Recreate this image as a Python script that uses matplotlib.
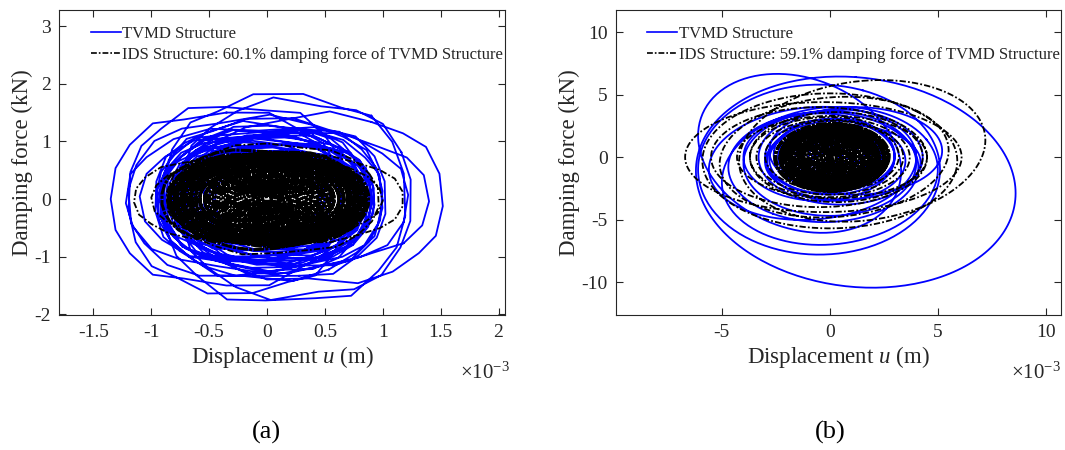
import matplotlib
matplotlib.use('Agg')
import matplotlib.pyplot as plt
import numpy as np

plt.rcParams['font.family'] = ['Liberation Serif', 'DejaVu Serif']
plt.rcParams['mathtext.fontset'] = 'custom'
plt.rcParams['mathtext.rm'] = 'Liberation Serif'
plt.rcParams['mathtext.it'] = 'Liberation Serif:italic'
plt.rcParams['axes.unicode_minus'] = False

# displacement in 1e-3 m, force in kN; loops
# panel (a): (centre x, amplitude x, amplitude y)
a_tvmd_cx = [-0.35, 0.45, 0.15, 0.25, -0.25, 0.00, 0.15, -0.10, 0.05, -0.05,
             0.10, 0.00, -0.10, 0.05, 0.00, 0.10, -0.05, 0.05, 0.00, -0.05,
             0.05, 0.00, -0.08, 0.08, 0.00, 0.05, -0.05, 0.00, 0.06, -0.06,
             0.00, 0.04, -0.04, 0.00, 0.03, -0.03, 0.00, 0.00, 0.00, 0.00]
a_tvmd_ax = [1.00, 1.07, 1.05, 1.00, 0.95, 1.22, 1.25, 1.10, 0.98, 0.92,
             0.90, 0.88, 0.86, 0.85, 0.82, 0.80, 0.78, 0.95, 0.93, 0.90,
             0.88, 0.86, 0.84, 0.83, 0.81, 0.79, 0.77, 0.75, 0.73, 0.71,
             0.70, 0.68, 0.66, 0.64, 0.62, 0.58, 0.55, 0.50, 0.47, 0.45]
a_tvmd_ay = [1.50, 1.45, 1.80, 1.70, 1.62, 1.25, 1.15, 1.40, 1.38, 1.30,
             1.28, 1.22, 1.18, 1.15, 1.10, 1.08, 1.05, 1.20, 1.12, 1.08,
             1.05, 1.02, 1.00, 0.98, 0.96, 0.94, 0.92, 0.90, 0.88, 0.86,
             0.85, 0.84, 0.82, 0.80, 0.78, 0.75, 0.72, 0.70, 0.66, 0.60]

# first 4 IDS loops are the outer ones, the rest form the dense core
a_ids_cx = [0.25, -0.30, 0.00, 0.05, -0.03, 0.02, 0.00, -0.02, 0.03, 0.00,
            -0.03, 0.02, 0.00, -0.02, 0.03, 0.00, -0.03, 0.02, 0.00, -0.02,
            0.03, 0.00, -0.03, 0.02, 0.00, -0.02, 0.03, 0.00, -0.03, 0.02,
            0.00, -0.01, 0.01, 0.00, 0.00, 0.00, 0.00, 0.00, 0.00, 0.00,
            0.00, 0.00, 0.00, 0.00, 0.00, 0.00, 0.00, 0.00, 0.00, 0.00,
            0.00, 0.00, 0.00, 0.00, 0.00, 0.00, 0.00, 0.00, 0.00]
a_ids_ax = [0.93, 0.85, 1.00, 0.92, 0.88, 0.86, 0.85, 0.84, 0.83, 0.82,
            0.81, 0.80, 0.79, 0.78, 0.77, 0.76, 0.75, 0.74, 0.73, 0.72,
            0.71, 0.70, 0.69, 0.68, 0.66, 0.65, 0.64, 0.62, 0.61, 0.60,
            0.58, 0.57, 0.55, 0.54, 0.52, 0.50, 0.48, 0.46, 0.44, 0.42,
            0.40, 0.38, 0.36, 0.34, 0.32, 0.30, 0.28, 0.26, 0.24, 0.22,
            0.20, 0.18, 0.16, 0.14, 0.12, 0.10, 0.08, 0.06, 0.04]
a_ids_ay = [0.75, 0.72, 0.70, 0.95, 0.85, 0.80, 0.79, 0.78, 0.77, 0.76,
            0.75, 0.74, 0.73, 0.72, 0.71, 0.70, 0.69, 0.68, 0.67, 0.66,
            0.65, 0.64, 0.63, 0.62, 0.60, 0.59, 0.58, 0.56, 0.55, 0.54,
            0.52, 0.51, 0.50, 0.49, 0.47, 0.45, 0.43, 0.42, 0.40, 0.38,
            0.36, 0.34, 0.33, 0.31, 0.29, 0.27, 0.25, 0.24, 0.22, 0.20,
            0.18, 0.16, 0.15, 0.13, 0.11, 0.09, 0.07, 0.06, 0.04]

# panel (b): (centre x, centre y, amplitude x, amplitude y, tilt)
b_tvmd_cx = [1.2, -0.5, -1.4, 0.0, -0.8, 1.2, 0.5, 0.0, -0.5, 0.3,
             -0.3, 0.6, 0.0, 0.2, -0.2, 0.0, 0.1, -0.1, 0.0, 0.0,
             0.0, 0.0, 0.0, 0.0, 0.0, 0.0]
b_tvmd_cy = [-2.0, -1.0, 0.3, -1.5, -0.5, 0.5, 0.0, -0.5, 0.0, -0.3,
             -0.8, -0.4, 0.0, 0.2, -0.2, 0.0, 0.1, -0.1, 0.0, 0.0,
             0.0, 0.0, 0.0, 0.0, 0.0, 0.0]
b_tvmd_ax = [7.4, 5.6, 4.7, 5.0, 4.8, 4.0, 3.8, 4.0, 3.5, 3.2,
             4.4, 3.6, 3.0, 2.8, 2.6, 2.4, 2.2, 2.0, 1.8, 1.6,
             1.4, 1.2, 1.0, 0.8, 0.6, 0.4]
b_tvmd_ay = [8.4, 6.8, 6.2, 5.5, 4.5, 3.5, 3.8, 4.2, 3.5, 3.2,
             4.4, 3.0, 3.0, 2.9, 2.7, 2.5, 2.3, 2.1, 1.9, 1.7,
             1.5, 1.3, 1.1, 0.9, 0.7, 0.5]
b_tvmd_tilt = [-0.12, 0.0, -0.3, 0.1, 0.1, 0.0, 0.0, 0.0, 0.0, 0.0,
               0.0, 0.0, 0.0, 0.0, 0.0, 0.0, 0.0, 0.0, 0.0, 0.0,
               0.0, 0.0, 0.0, 0.0, 0.0, 0.0]

# first 10 IDS loops are the outer ones, the rest form the dense core
b_ids_cx = [1.5, -0.3, 0.0, 0.2, -0.5, 0.3, 0.0, 0.0, 0.1, 0.1,
            0.1, 0.0, 0.2, 0.3, 0.1, 0.2, 0.0, 0.2, 0.3, 0.1,
            0.15, 0.25, 0.2, 0.15, 0.25, 0.2, 0.15, 0.25, 0.2, 0.2,
            0.2, 0.2, 0.2, 0.2, 0.2, 0.2, 0.2, 0.2, 0.2, 0.2,
            0.2, 0.2, 0.2, 0.2, 0.2, 0.2, 0.2]
b_ids_cy = [0.5, 0.0, -0.3, 0.0, 0.0, 0.0, 0.0, 0.0, 0.0, 0.1,
            0.0, -0.1, 0.0, 0.1, 0.0, 0.0, -0.1, 0.0, 0.1, 0.0,
            0.05, -0.05, 0.0, 0.05, -0.05, 0.0, 0.05, -0.05, 0.0, 0.0,
            0.0, 0.0, 0.0, 0.0, 0.0, 0.0, 0.0, 0.0, 0.0, 0.0,
            0.0, 0.0, 0.0, 0.0, 0.0, 0.0, 0.0]
b_ids_ax = [5.7, 6.4, 5.9, 5.3, 5.0, 4.0, 3.7, 3.4, 4.4, 3.1,
            2.6, 2.55, 2.5, 2.45, 2.4, 2.35, 2.3, 2.25, 2.2, 2.15,
            2.1, 2.05, 2.0, 1.95, 1.9, 1.85, 1.8, 1.75, 1.7, 1.65,
            1.6, 1.5, 1.45, 1.4, 1.3, 1.2, 1.1, 1.0, 0.9, 0.8,
            0.7, 0.6, 0.5, 0.4, 0.3, 0.2, 0.1]
b_ids_ay = [5.6, 4.4, 5.4, 4.8, 4.0, 3.6, 3.2, 3.0, 3.3, 2.8,
            2.7, 2.65, 2.6, 2.55, 2.5, 2.45, 2.4, 2.35, 2.3, 2.25,
            2.2, 2.15, 2.1, 2.05, 2.0, 1.95, 1.9, 1.85, 1.8, 1.75,
            1.7, 1.6, 1.55, 1.5, 1.4, 1.3, 1.2, 1.1, 1.0, 0.9,
            0.8, 0.7, 0.6, 0.5, 0.4, 0.3, 0.2]
b_ids_tilt = [0.15, 0.0, 0.0, 0.1, 0.0, 0.0, 0.0, 0.0, 0.0, 0.0,
              0.0, 0.0, 0.0, 0.0, 0.0, 0.0, 0.0, 0.0, 0.0, 0.0,
              0.0, 0.0, 0.0, 0.0, 0.0, 0.0, 0.0, 0.0, 0.0, 0.0,
              0.0, 0.0, 0.0, 0.0, 0.0, 0.0, 0.0, 0.0, 0.0, 0.0,
              0.0, 0.0, 0.0, 0.0, 0.0, 0.0, 0.0]

labels_a = ['TVMD Structure', 'IDS Structure: 60.1% damping force of TVMD Structure']
labels_b = ['TVMD Structure', 'IDS Structure: 59.1% damping force of TVMD Structure']

INK = (0.15, 0.15, 0.15)
DASHDOT = (3.5, 1.2, 1, 1.2)
CORE_DASH = (3.5, 0.4, 1, 0.4)


def loops(cx, cy, ax, ay, tilt, npts, p, wob, start=0):
    xs, ys = [], []
    for i in range(len(ax)):
        k = i + start
        t = np.linspace(0, 2 * np.pi, npts + 1) + 0.37 * k
        s, c = np.sin(t), np.cos(t)
        s = np.sign(s) * np.abs(s) ** p
        c = np.sign(c) * np.abs(c) ** p
        w = 1 + wob * np.sin(7 * t + k)
        xs += list(cx[i] + ax[i] * s) + [np.nan]
        ys += list(cy[i] + ay[i] * c * w + tilt[i] * ax[i] * s) + [np.nan]
    return np.array(xs), np.array(ys)


def style(ax, xlim, ylim, xt, yt, xpow):
    ax.set_xlim(xlim)
    ax.set_ylim(ylim)
    ax.set_xticks(xt)
    ax.set_yticks(yt)
    ax.set_xticklabels(['{:g}'.format(v) for v in xt])
    ax.set_yticklabels(['{:g}'.format(v) for v in yt])
    ax.tick_params(direction='in', top=True, right=True, length=5, width=0.8,
                   labelsize=14, colors=INK, pad=6)
    for sp in ax.spines.values():
        sp.set_color(INK)
        sp.set_linewidth(0.8)
    ax.set_xlabel('Displacement $u$ (m)', fontsize=16.5, color=INK, labelpad=2)
    ax.set_ylabel('Damping force (kN)', fontsize=16.5, color=INK, labelpad=1)
    ax.text(xpow, -0.19, r'$\times$10$^{-3}$', transform=ax.transAxes, ha='right', va='center',
            fontsize=15, color=INK)


fig = plt.figure(figsize=(10.65, 4.5), dpi=100)
ax1 = fig.add_axes([0.0557, 0.2989, 0.4185, 0.6778])
ax2 = fig.add_axes([0.5784, 0.2989, 0.4178, 0.6778])

# panel (a)
zeros_a = [0.0] * len(a_tvmd_ax)
x, y = loops(a_tvmd_cx, zeros_a, a_tvmd_ax, a_tvmd_ay, zeros_a, 20, 0.85, 0.05)
ax1.plot(x, y, color='b', lw=1.3, label=labels_a[0])
zeros_i = [0.0] * len(a_ids_ax)
x, y = loops(a_ids_cx[:4], zeros_i[:4], a_ids_ax[:4], a_ids_ay[:4], zeros_i[:4], 22, 0.9, 0.04)
ax1.plot(x, y, color='k', lw=1.3, dashes=DASHDOT, label=labels_a[1])
x, y = loops(a_ids_cx[4:], zeros_i[4:], a_ids_ax[4:], a_ids_ay[4:], zeros_i[4:], 36, 0.9, 0.04, 4)
ax1.plot(x, y, color='k', lw=2.2, dashes=CORE_DASH)

# panel (b)
x, y = loops(b_tvmd_cx, b_tvmd_cy, b_tvmd_ax, b_tvmd_ay, b_tvmd_tilt, 200, 1.0, 0.0)
ax2.plot(x, y, color='b', lw=1.3, label=labels_b[0])
x, y = loops(b_ids_cx[:10], b_ids_cy[:10], b_ids_ax[:10], b_ids_ay[:10], b_ids_tilt[:10], 200, 1.0, 0.0)
ax2.plot(x, y, color='k', lw=1.3, dashes=DASHDOT, label=labels_b[1])
x, y = loops(b_ids_cx[10:], b_ids_cy[10:], b_ids_ax[10:], b_ids_ay[10:], b_ids_tilt[10:], 200, 1.0, 0.0, 10)
ax2.plot(x, y, color='k', lw=2.2, dashes=CORE_DASH)

style(ax1, (-1.794, 2.056), (-2.02, 3.27), [-1.5, -1, -0.5, 0, 0.5, 1, 1.5, 2], [-2, -1, 0, 1, 2, 3], 1.01)
style(ax2, (-9.9, 10.7), (-12.67, 11.73), [-5, 0, 5, 10], [-10, -5, 0, 5, 10], 1.0)

for ax in (ax1, ax2):
    leg = ax.legend(loc='upper left', bbox_to_anchor=(0.055, 0.97), frameon=False, fontsize=12,
                    handlelength=1.8, handletextpad=0.1, labelspacing=0.3, borderaxespad=0,
                    labelcolor=INK)
    for h in leg.get_lines():
        h.set_linewidth(1.2)

fig.text(266 / 1065, 1 - 432 / 450, '(a)', ha='center', va='center', fontsize=19)
fig.text(830 / 1065, 1 - 432 / 450, '(b)', ha='center', va='center', fontsize=19)

fig.savefig('out.png', dpi=100)
